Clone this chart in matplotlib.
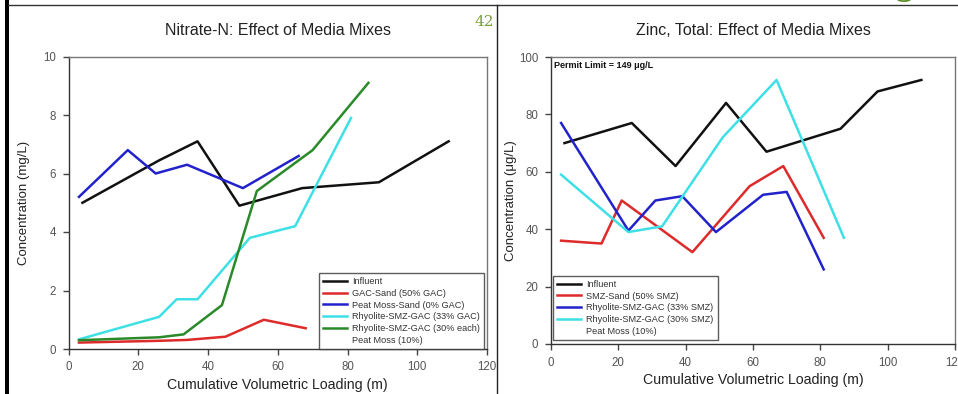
import matplotlib
matplotlib.use("Agg")
import matplotlib.pyplot as plt
from matplotlib.lines import Line2D
from matplotlib.patches import Rectangle

plt.rcParams['font.family'] = ['Liberation Sans', 'DejaVu Sans']

# ---------------- Data: Nitrate-N ----------------
n_influent_x = [4, 26, 37, 49, 67, 89, 109]
n_influent_y = [5.0, 6.45, 7.1, 4.9, 5.5, 5.7, 7.1]
n_gac_x = [3, 26, 34, 45, 56, 68]
n_gac_y = [0.22, 0.28, 0.31, 0.42, 1.0, 0.71]
n_peat_x = [3, 17, 25, 34, 50, 66]
n_peat_y = [5.2, 6.8, 6.0, 6.3, 5.5, 6.6]
n_rsg33_x = [3, 26, 31, 37, 52, 65, 81]
n_rsg33_y = [0.33, 1.1, 1.7, 1.7, 3.8, 4.2, 7.9]
n_rsg30_x = [3, 26, 33, 44, 54, 70, 86]
n_rsg30_y = [0.3, 0.4, 0.5, 1.5, 5.4, 6.8, 9.1]

n_labels = ["Influent", "GAC-Sand (50% GAC)", "Peat Moss-Sand (0% GAC)",
            "Rhyolite-SMZ-GAC (33% GAC)", "Rhyolite-SMZ-GAC (30% each)",
            "Peat Moss (10%)"]

# ---------------- Data: Zinc, Total ----------------
z_influent_x = [4, 24, 37, 52, 64, 86, 97, 110]
z_influent_y = [70, 77, 62, 84, 67, 75, 88, 92]
z_smz_x = [3, 15, 21, 42, 59, 69, 81]
z_smz_y = [36, 35, 50, 32, 55, 62, 37]
z_rsg33_x = [3, 23, 31, 39, 49, 63, 70, 81]
z_rsg33_y = [77, 39.5, 50, 51.5, 39, 52, 53, 26]
z_rsg30_x = [3, 23, 33, 51, 67, 87]
z_rsg30_y = [59, 39, 41, 72, 92, 37]

z_labels = ["Influent", "SMZ-Sand (50% SMZ)", "Rhyolite-SMZ-GAC (33% SMZ)",
            "Rhyolite-SMZ-GAC (30% SMZ)", "Peat Moss (10%)"]

x_ticks = [0, 20, 40, 60, 80, 100, 120]
n_yticks = [0, 2, 4, 6, 8, 10]
z_yticks = [0, 20, 40, 60, 80, 100]

C_BLACK = "#111111"
C_RED = "#dd2a2a"
C_BLUE = "#2222cc"
C_CYAN = "#3ee0e6"
C_GREEN = "#2a8a2a"

W, H = 958, 394
fig = plt.figure(figsize=(W / 100, H / 100), dpi=100)
fig.patch.set_facecolor("white")


def px_axes(x0, x1, ytop, ybot):
    return fig.add_axes([x0 / W, (H - ybot) / H, (x1 - x0) / W, (ybot - ytop) / H])


def style(ax, ylim, yticks, ylabel, title, ylab_x):
    ax.set_xlim(0, 120)
    ax.set_ylim(*ylim)
    ax.set_xticks(x_ticks)
    ax.set_yticks(yticks)
    ax.tick_params(direction="out", length=4, width=1, colors="#444444",
                   labelsize=8.3, labelcolor="#555555", pad=5)
    for s in ["left", "bottom"]:
        ax.spines[s].set_color("#333333")
        ax.spines[s].set_linewidth(1.0)
    for s in ["top", "right"]:
        ax.spines[s].set_color("#777777")
        ax.spines[s].set_linewidth(1.0)
    ax.set_xlabel("Cumulative Volumetric Loading (m)", fontsize=10.2,
                  color="#222222", labelpad=3)
    ax.set_ylabel(ylabel, fontsize=9.5, color="#222222")
    ax.yaxis.set_label_coords(ylab_x, 0.5)
    ax.set_title(title, fontsize=11.5, color="#222222", pad=15.5)


lw = 1.8


def legend(ax, handles, labels, loc, anchor):
    leg = ax.legend(handles, labels, loc=loc, fontsize=6.6,
                    frameon=True, fancybox=False, borderpad=0.45,
                    handlelength=2.6, handletextpad=0.6, labelspacing=0.3,
                    borderaxespad=0.0, bbox_to_anchor=anchor)
    leg.get_frame().set_edgecolor("#333333")
    leg.get_frame().set_linewidth(1.0)
    for t in leg.get_texts():
        t.set_color("#333333")
    return leg


# ---------------- Left: Nitrate ----------------
ax1 = px_axes(68.5, 487, 56.5, 349)
ax1.plot(n_influent_x, n_influent_y, color=C_BLACK, lw=lw)
ax1.plot(n_gac_x, n_gac_y, color=C_RED, lw=lw)
ax1.plot(n_peat_x, n_peat_y, color=C_BLUE, lw=lw)
ax1.plot(n_rsg33_x, n_rsg33_y, color=C_CYAN, lw=lw)
ax1.plot(n_rsg30_x, n_rsg30_y, color=C_GREEN, lw=lw)
style(ax1, (0, 10), n_yticks, "Concentration (mg/L)",
      "Nitrate-N: Effect of Media Mixes", (30 - 68.5) / 418.5)
h1 = [Line2D([], [], color=c, lw=lw) for c in
      [C_BLACK, C_RED, C_BLUE, C_CYAN, C_GREEN]] + [Line2D([], [], color="none")]
legend(ax1, h1, n_labels, "lower right", (0.993, 0.0))

# ---------------- Right: Zinc ----------------
ax2 = px_axes(551, 955, 57, 344)
ax2.plot(z_influent_x, z_influent_y, color=C_BLACK, lw=lw)
ax2.plot(z_smz_x, z_smz_y, color=C_RED, lw=lw)
ax2.plot(z_rsg33_x, z_rsg33_y, color=C_BLUE, lw=lw)
ax2.plot(z_rsg30_x, z_rsg30_y, color=C_CYAN, lw=lw)
style(ax2, (0, 100), z_yticks, "Concentration (\u03bcg/L)",
      "Zinc, Total: Effect of Media Mixes", (517 - 551) / 404)
h2 = [Line2D([], [], color=c, lw=lw) for c in
      [C_BLACK, C_RED, C_BLUE, C_CYAN]] + [Line2D([], [], color="none")]
legend(ax2, h2, z_labels, "lower left", (0.005, 0.014))
ax2.text(0.008, 0.985, "Permit Limit = 149 \u03bcg/L", transform=ax2.transAxes,
         fontsize=6.5, fontweight="bold", va="top", ha="left", color="#111111")

# ---------------- Page decorations ----------------
fig.add_artist(Rectangle((5 / W, 0), 4 / W, 1, transform=fig.transFigure,
                         color="black", lw=0))
fig.add_artist(Line2D([8 / W, 1], [1 - 5 / H, 1 - 5 / H],
                      transform=fig.transFigure, color="#333333", lw=1.0))
fig.add_artist(Line2D([497.5 / W, 497.5 / W], [0, 1 - 5 / H],
                      transform=fig.transFigure, color="#222222", lw=1.0))
fig.text(484 / W, 1 - 22 / H, "42", fontsize=11, color="#7aa03a",
         family="DejaVu Serif", ha="center", va="center")
fig.text(905 / W, 1 - 2 / H, "g", fontsize=22, color="#5f8f2a",
         family="DejaVu Serif", fontweight="bold", ha="center", va="bottom")

fig.savefig("out.png", dpi=100)
